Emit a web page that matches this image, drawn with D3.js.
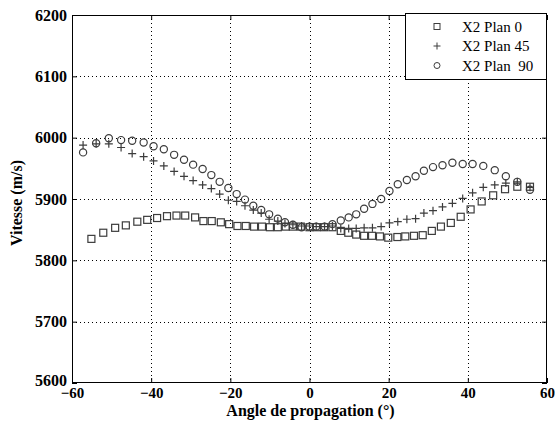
<!DOCTYPE html>
<html>
<head>
<meta charset="utf-8">
<script src="https://cdn.jsdelivr.net/npm/d3@7"></script>
<style>
  html, body { margin: 0; padding: 0; background: #fff; }
  svg { display: block; }
</style>
</head>
<body>
<svg id="chart" width="555" height="423"></svg>
<script>
// ---- data ----
const anglesPlan0 = [-55.1, -52.1, -49.1, -46.4, -43.5, -41.0, -38.5, -36.0, -33.6, -31.4,
  -28.9, -26.8, -24.7, -22.4, -20.3, -18.2, -16.1, -14.0, -12.0, -10.0, -8.0, -6.0, -4.2, -2.2,
  0.0, 1.8, 3.7, 5.8, 7.9, 9.8, 11.8, 13.8, 15.8, 17.8, 19.9, 22.2, 24.2, 26.4, 28.6, 30.9,
  33.2, 35.7, 38.2, 40.7, 43.5, 46.4, 49.4, 52.5, 55.7];
const vPlan0 = [5835, 5845, 5853, 5857, 5863, 5866, 5869, 5872, 5873, 5873,
  5870, 5864, 5864, 5862, 5859, 5856, 5856, 5855, 5855, 5854, 5854, 5855, 5855, 5855,
  5854, 5854, 5854, 5854, 5848, 5845, 5842, 5840, 5840, 5839, 5837, 5838, 5839, 5840, 5841, 5848,
  5855, 5861, 5871, 5883, 5896, 5906, 5916, 5920, 5920];

const anglesPlan45 = [-57.2, -53.9, -50.7, -47.6, -44.8, -41.9, -39.4, -36.8, -34.2, -31.7,
  -29.4, -27.0, -24.8, -22.7, -20.5, -18.4, -16.3, -14.2, -12.2, -10.2, -8.0, -6.2, -4.2, -2.0,
  0.0, 1.7, 3.8, 5.8, 7.9, 9.9, 11.8, 13.8, 15.9, 18.1, 20.2, 22.3, 24.6, 26.8, 28.9, 31.2,
  33.6, 36.1, 38.7, 41.2, 43.9, 46.8, 49.6, 52.5, 55.7];
const vPlan45 = [5988, 5990, 5990, 5984, 5974, 5969, 5962, 5954, 5945, 5937,
  5930, 5923, 5917, 5908, 5898, 5896, 5889, 5882, 5877, 5867, 5864, 5860, 5858, 5856,
  5856, 5855, 5855, 5856, 5852, 5852, 5852, 5853, 5853, 5855, 5861, 5863, 5867, 5868, 5877, 5881,
  5887, 5893, 5901, 5910, 5919, 5923, 5926, 5928, 5919];

const anglesPlan90 = anglesPlan45;
const vPlan90 = [5976, 5991, 5999, 5996, 5995, 5992, 5986, 5981, 5972, 5964,
  5956, 5949, 5939, 5928, 5918, 5908, 5899, 5889, 5882, 5875, 5868, 5862, 5858, 5854,
  5855, 5855, 5855, 5859, 5865, 5870, 5875, 5884, 5892, 5900, 5913, 5924, 5931, 5937, 5946, 5952,
  5955, 5959, 5957, 5957, 5954, 5947, 5937, 5928, 5915];

const seriesNames = ["X2 Plan 0", "X2 Plan 45", "X2 Plan  90"];
const xTicks = [-60, -40, -20, 0, 20, 40, 60];
const yTicks = [5600, 5700, 5800, 5900, 6000, 6100, 6200];
const xLabel = "Angle de propagation (°)";
const yLabel = "Vitesse (m/s)";

// ---- layout ----
const L = 72, R = 547, T = 15, B = 383;
const svg = d3.select("#chart");
const x = d3.scaleLinear().domain([-60, 60]).range([L, R]);
const y = d3.scaleLinear().domain([5600, 6200]).range([B, T]);
const font = "'Liberation Serif', 'Times New Roman', serif";
const markColor = "#3c3c3c";

// grid
const grid = svg.append("g").attr("stroke", "#000").attr("stroke-width", 1)
  .attr("stroke-dasharray", "1,3").attr("shape-rendering", "crispEdges");
grid.selectAll(".gx").data(xTicks.slice(1, -1)).join("line")
  .attr("x1", d => Math.round(x(d)) + 0.5).attr("x2", d => Math.round(x(d)) + 0.5)
  .attr("y1", T).attr("y2", B);
grid.selectAll(".gy").data(yTicks.slice(1, -1)).join("line")
  .attr("y1", d => Math.round(y(d)) + 0.5).attr("y2", d => Math.round(y(d)) + 0.5)
  .attr("x1", L).attr("x2", R);

// axes
function styleAxis(g, showLabels, size) {
  g.select(".domain").remove();
  g.selectAll("line").attr("stroke", "#000");
  g.selectAll("text").attr("font-family", font).attr("font-size", size)
    .attr("font-weight", "bold").attr("fill", "#000");
  if (!showLabels) g.selectAll("text").remove();
}
svg.append("g").attr("transform", `translate(0,${B})`)
  .call(d3.axisBottom(x).tickValues(xTicks).tickSize(-5).tickPadding(4).tickFormat(d3.format("d")))
  .call(g => styleAxis(g, true, 15));
svg.append("g").attr("transform", `translate(0,${T})`)
  .call(d3.axisTop(x).tickValues(xTicks).tickSize(-5))
  .call(g => styleAxis(g, false, 15));
svg.append("g").attr("transform", `translate(${L},0)`)
  .call(d3.axisLeft(y).tickValues(yTicks).tickSize(-5).tickPadding(5).tickFormat(d3.format("d")))
  .call(g => styleAxis(g, true, 16));
svg.append("g").attr("transform", `translate(${R},0)`)
  .call(d3.axisRight(y).tickValues(yTicks).tickSize(-5))
  .call(g => styleAxis(g, false, 16));
// nudge the lowest y label up slightly so it does not collide with "-60"
svg.selectAll("text").filter(function () { return this.textContent === "5600"; })
  .attr("dy", "0.15em");

// frame
svg.append("rect").attr("x", L + 0.5).attr("y", T + 0.5).attr("width", R - L - 1).attr("height", B - T - 1)
  .attr("fill", "none").attr("stroke", "#000").attr("stroke-width", 1);

// markers
function drawMarker(g, type, cx, cy) {
  if (type === 0) {
    g.append("rect").attr("x", cx - 3.5).attr("y", cy - 3.5).attr("width", 7).attr("height", 7)
      .attr("fill", "none").attr("stroke", markColor).attr("stroke-width", 1.2);
  } else if (type === 1) {
    g.append("path").attr("d", `M${cx - 4},${cy}H${cx + 4}M${cx},${cy - 4}V${cy + 4}`)
      .attr("stroke", markColor).attr("stroke-width", 1.2).attr("fill", "none");
  } else {
    g.append("circle").attr("cx", cx).attr("cy", cy).attr("r", 3.6)
      .attr("fill", "none").attr("stroke", markColor).attr("stroke-width", 1.2);
  }
}
const series = [
  { a: anglesPlan0, v: vPlan0 },
  { a: anglesPlan45, v: vPlan45 },
  { a: anglesPlan90, v: vPlan90 }
];
const marks = svg.append("g");
series.forEach((s, i) => {
  s.a.forEach((ang, j) => drawMarker(marks, i, x(ang), y(s.v[j])));
});

// axis labels
svg.append("text").attr("x", (L + R) / 2 + 1).attr("y", 416).attr("text-anchor", "middle")
  .attr("font-family", font).attr("font-size", 16).attr("font-weight", "bold").text(xLabel);
svg.append("text").attr("transform", `translate(22,${(T + B) / 2 + 4}) rotate(-90)`)
  .attr("text-anchor", "middle")
  .attr("font-family", font).attr("font-size", 16).attr("font-weight", "bold").text(yLabel);

// legend
const lg = svg.append("g");
lg.append("rect").attr("x", 405.5).attr("y", 13.5).attr("width", 141).attr("height", 66)
  .attr("fill", "#fff").attr("stroke", "#000").attr("stroke-width", 1);
seriesNames.forEach((name, i) => {
  const cy = 26.5 + i * 19.5;
  const g = lg.append("g");
  if (i === 0) {
    g.append("rect").attr("x", 434).attr("y", cy - 3).attr("width", 6).attr("height", 6)
      .attr("fill", "none").attr("stroke", markColor).attr("stroke-width", 1);
  } else if (i === 1) {
    g.append("path").attr("d", `M${433.5},${cy}H${440.5}M${437},${cy - 3.5}V${cy + 3.5}`)
      .attr("stroke", markColor).attr("stroke-width", 1);
  } else {
    g.append("circle").attr("cx", 437).attr("cy", cy).attr("r", 3)
      .attr("fill", "none").attr("stroke", markColor).attr("stroke-width", 1);
  }
  lg.append("text").attr("x", 462).attr("y", cy + 5).attr("font-family", font)
    .attr("font-size", 15).attr("xml:space", "preserve").style("white-space", "pre").text(name);
});
</script>
</body>
</html>
